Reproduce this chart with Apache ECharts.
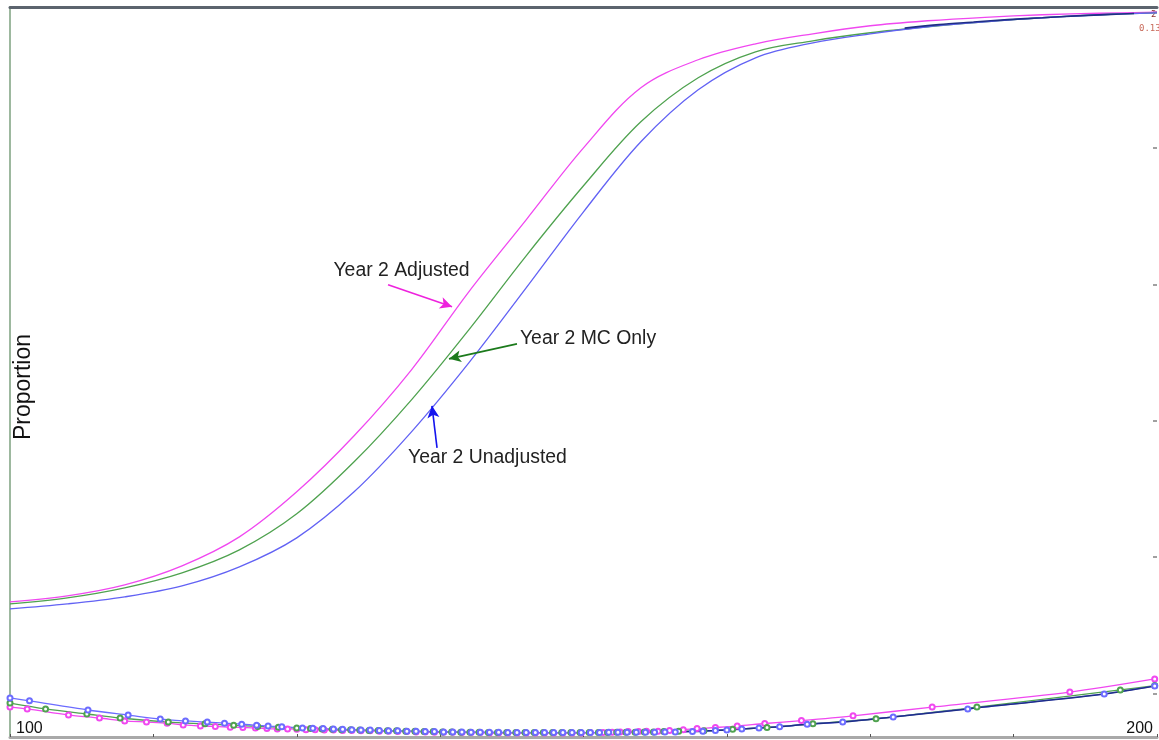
<!DOCTYPE html>
<html>
<head>
<meta charset="utf-8">
<script src="https://cdn.jsdelivr.net/npm/echarts@6/dist/echarts.min.js"></script>
<style>
  html, body { margin: 0; padding: 0; background: #ffffff; }
  #chart { width: 1159px; height: 740px; }
</style>
</head>
<body>
<div id="chart"></div>
<script>
// Score scale on the horizontal axis
const scoreTicks = [100, 200];

// Cumulative proportion curves (upper set)
const scoreX = [100, 105, 110, 115, 120, 125, 130, 135, 140, 145, 150, 155, 160, 165, 170, 175, 180, 185, 190, 195, 200];
const adjusted   = [0.1343, 0.1431, 0.1592, 0.1871, 0.2296, 0.2957, 0.3779, 0.4747, 0.5892, 0.6948, 0.8004, 0.8885, 0.9296, 0.9530, 0.9677, 0.9795, 0.9868, 0.9919, 0.9956, 0.9978, 0.9993];
const mcOnly     = [0.1313, 0.1401, 0.1548, 0.1768, 0.2105, 0.2634, 0.3397, 0.4307, 0.5334, 0.6420, 0.7447, 0.8386, 0.9032, 0.9413, 0.9574, 0.9692, 0.9780, 0.9853, 0.9912, 0.9956, 0.9985];
const unadjusted = [0.1240, 0.1313, 0.1416, 0.1577, 0.1856, 0.2282, 0.2957, 0.3837, 0.4849, 0.5949, 0.7065, 0.8093, 0.8856, 0.9325, 0.9545, 0.9677, 0.9780, 0.9853, 0.9912, 0.9956, 0.9985];
// Reference curve that shows through where the upper curves merge
const year1X = [178, 181, 184, 187, 190, 193, 196, 198];
const year1  = [0.9760, 0.9812, 0.9849, 0.9885, 0.9912, 0.9940, 0.9962, 0.9975];

// Lower curves, secondary scale (0 to 2)
const adjustedLowX = [100, 101.5, 105.1, 107.8, 110.0, 111.9, 113.7, 115.1, 116.6, 117.9, 119.2, 120.3, 121.4, 122.4, 123.3, 124.2, 125.0, 125.8, 126.6, 127.4, 128.2, 129.0, 129.8, 130.6, 131.4, 132.2, 133.0, 133.8, 134.6, 135.4, 136.2, 137.0, 137.8, 138.6, 139.4, 140.2, 141.0, 141.8, 142.6, 143.4, 144.2, 145.0, 145.8, 146.6, 147.4, 148.2, 149.0, 149.8, 150.6, 151.7, 152.5, 153.2, 153.9, 154.8, 155.5, 156.5, 157.5, 158.7, 159.9, 161.5, 163.4, 165.8, 169.0, 173.5, 180.4, 192.4, 199.8];
const adjustedLowY = [0.082, 0.077, 0.060, 0.052, 0.044, 0.041, 0.038, 0.033, 0.030, 0.029, 0.027, 0.026, 0.025, 0.023, 0.022, 0.022, 0.021, 0.020, 0.020, 0.019, 0.019, 0.018, 0.018, 0.017, 0.017, 0.016, 0.016, 0.015, 0.015, 0.014, 0.014, 0.013, 0.013, 0.013, 0.012, 0.012, 0.012, 0.011, 0.011, 0.011, 0.011, 0.011, 0.011, 0.011, 0.011, 0.011, 0.011, 0.011, 0.012, 0.012, 0.013, 0.014, 0.015, 0.015, 0.016, 0.016, 0.018, 0.020, 0.023, 0.026, 0.030, 0.037, 0.045, 0.058, 0.082, 0.123, 0.159];

const mcOnlyLowX = [100, 103.1, 106.7, 109.6, 113.8, 117.0, 119.5, 121.6, 123.4, 125.0, 126.2, 127.2, 128.1, 128.9, 129.7, 130.5, 131.3, 132.1, 132.9, 133.7, 134.5, 135.3, 136.1, 136.9, 137.7, 138.5, 139.3, 140.1, 140.9, 141.7, 142.5, 143.3, 144.1, 144.9, 145.7, 146.5, 147.3, 148.1, 148.9, 149.7, 150.5, 151.3, 152.1, 152.9, 153.7, 154.5, 155.3, 156.1, 157.0, 158.3, 160.5, 163.0, 166.0, 170.0, 175.5, 184.3, 196.8, 199.8];
const mcOnlyLowY = [0.093, 0.077, 0.063, 0.052, 0.041, 0.036, 0.032, 0.029, 0.027, 0.025, 0.023, 0.022, 0.021, 0.020, 0.020, 0.019, 0.018, 0.018, 0.017, 0.017, 0.016, 0.016, 0.015, 0.015, 0.014, 0.014, 0.013, 0.013, 0.013, 0.012, 0.012, 0.012, 0.012, 0.012, 0.012, 0.012, 0.012, 0.012, 0.012, 0.012, 0.012, 0.012, 0.012, 0.013, 0.013, 0.013, 0.014, 0.014, 0.015, 0.016, 0.017, 0.021, 0.026, 0.036, 0.050, 0.082, 0.129, 0.141];

const unadjustedLowX = [100, 101.7, 106.8, 110.3, 113.1, 115.3, 117.2, 118.7, 120.2, 121.5, 122.5, 123.7, 125.5, 126.4, 127.3, 128.2, 129.0, 129.8, 130.6, 131.4, 132.2, 133.0, 133.8, 134.6, 135.4, 136.2, 137.0, 137.8, 138.6, 139.4, 140.2, 141.0, 141.8, 142.6, 143.4, 144.2, 145.0, 145.8, 146.6, 147.4, 148.2, 149.0, 149.8, 150.6, 151.4, 152.2, 153.0, 153.8, 154.6, 155.4, 156.2, 157.1, 158.0, 159.5, 160.4, 161.5, 162.5, 163.8, 165.3, 167.1, 169.5, 172.6, 177.0, 183.5, 195.4, 199.8];
const unadjustedLowY = [0.107, 0.099, 0.074, 0.060, 0.049, 0.044, 0.041, 0.038, 0.035, 0.032, 0.030, 0.028, 0.025, 0.024, 0.023, 0.022, 0.021, 0.020, 0.019, 0.019, 0.018, 0.017, 0.017, 0.016, 0.016, 0.015, 0.015, 0.014, 0.014, 0.014, 0.013, 0.013, 0.013, 0.013, 0.012, 0.012, 0.012, 0.012, 0.012, 0.012, 0.012, 0.012, 0.012, 0.012, 0.012, 0.013, 0.013, 0.013, 0.013, 0.013, 0.013, 0.014, 0.014, 0.015, 0.016, 0.018, 0.019, 0.022, 0.025, 0.028, 0.035, 0.041, 0.055, 0.077, 0.118, 0.140];

// Curve labels and their arrows (data coordinates)
const curveLabels = [
  { text: 'Year 2 Adjusted',   at: [128.2, 0.6200] },
  { text: 'Year 2 MC Only',    at: [144.46, 0.5202] },
  { text: 'Year 2 Unadjusted', at: [134.7, 0.3455] }
];
const adjustedArrow   = [[132.96, 0.5994], [138.54, 0.5671]];
const mcOnlyArrow     = [[144.20, 0.5128], [138.27, 0.4908]];
const unadjustedArrow = [[137.23, 0.3602], [136.79, 0.4219]];

const C_ADJ = '#f048f0';
const C_MC = '#4fa24f';
const C_UN = '#6262f4';
const C_NAVY = '#1f2f86';

const zip = (xs, ys) => xs.map((x, i) => [x, ys[i]]);

function arrow(points, color) {
  return {
    silent: true,
    symbol: ['none', 'arrow'],
    symbolSize: [9, 12],
    label: { show: false },
    lineStyle: { color: color, width: 1.6, type: 'solid' },
    itemStyle: { color: color },
    emphasis: { disabled: true },
    animation: false,
    data: [[{ coord: points[0] }, { coord: points[1] }]]
  };
}

function upper(name, data, color, arrowPts, arrowColor) {
  return {
    name: name, type: 'line', xAxisIndex: 0, yAxisIndex: 0,
    data: zip(scoreX, data), smooth: 0.35, showSymbol: false,
    lineStyle: { color: color, width: 1.3 }, itemStyle: { color: color },
    markLine: arrowPts ? arrow(arrowPts, arrowColor) : undefined
  };
}

function lower(name, xs, ys, color) {
  return {
    name: name, type: 'line', xAxisIndex: 0, yAxisIndex: 1,
    data: zip(xs, ys), smooth: 0.3, symbol: 'emptyCircle', symbolSize: 5,
    lineStyle: { color: color, width: 1.3 },
    itemStyle: { color: color, borderColor: color, borderWidth: 1.2 }
  };
}

const chart = echarts.init(document.getElementById('chart'), null, { renderer: 'canvas' });

const lowerNavy = zip(unadjustedLowX, unadjustedLowY).filter(p => p[0] >= 155);

chart.setOption({
  animation: false,
  backgroundColor: '#ffffff',
  grid: { left: 10, right: 2, top: 7, bottom: 3, containLabel: false },
  xAxis: [
    {
      type: 'value', position: 'bottom', min: 100, max: 200, interval: 12.5,
      axisLine: { show: true, onZero: false, lineStyle: { color: '#a9a9a9', width: 3 } },
      axisTick: { show: true, inside: true, length: 3, lineStyle: { color: '#555', width: 1 } },
      axisLabel: {
        show: true, inside: true, customValues: scoreTicks, margin: 0,
        alignMinLabel: 'left', alignMaxLabel: 'right',
        padding: [0, 4, 0, 6],
        fontFamily: 'Liberation Sans, Arial, sans-serif', fontSize: 16, color: '#111'
      },
      splitLine: { show: false }
    },
    {
      type: 'value', position: 'top', min: 100, max: 200,
      axisLine: { show: true, onZero: false, lineStyle: { color: '#5c646e', width: 3 } },
      axisTick: { show: false }, axisLabel: { show: false }, splitLine: { show: false }
    }
  ],
  yAxis: [
    {
      type: 'value', position: 'right', min: -0.064, max: 1.007,
      axisLine: { show: false, onZero: false },
      axisTick: { show: true, inside: true, length: 4, customValues: [0, 0.2, 0.4, 0.6, 0.8, 1.0], lineStyle: { color: '#a0a0a0', width: 2 } },
      axisLabel: { show: false },
      splitLine: { show: false }
    },
    {
      type: 'value', position: 'left', min: 0, max: 2,
      axisLine: { show: true, onZero: false, lineStyle: { color: '#9db89f', width: 2 } },
      axisTick: { show: false }, axisLabel: { show: false }, splitLine: { show: false }
    }
  ],
  series: [
    upper('Year 2 Adjusted', adjusted, C_ADJ, adjustedArrow, '#ee22dd'),
    upper('Year 2 MC Only', mcOnly, C_MC, mcOnlyArrow, '#1c7a1c'),
    upper('Year 2 Unadjusted', unadjusted, C_UN, unadjustedArrow, '#1414ee'),
    {
      name: 'Year 1', type: 'line', xAxisIndex: 0, yAxisIndex: 0,
      data: zip(year1X, year1), smooth: 0.3, showSymbol: false,
      lineStyle: { color: C_NAVY, width: 1.6 }
    },
    lower('Year 2 Adjusted SE', adjustedLowX, adjustedLowY, C_ADJ),
    lower('Year 2 MC Only SE', mcOnlyLowX, mcOnlyLowY, C_MC),
    lower('Year 2 Unadjusted SE', unadjustedLowX, unadjustedLowY, '#6c6cff'),
    {
      name: 'Year 1 SE', type: 'line', xAxisIndex: 0, yAxisIndex: 1,
      data: lowerNavy, smooth: 0.3, showSymbol: false,
      lineStyle: { color: C_NAVY, width: 1.5 }
    }
  ]
});

// Curve labels placed through the chart's own coordinate system
const labelGraphics = curveLabels.map(l => {
  const p = chart.convertToPixel({ xAxisIndex: 0, yAxisIndex: 0 }, l.at);
  return {
    type: 'text', x: p[0], y: p[1], silent: true,
    style: {
      text: l.text, fill: '#222', align: 'left', verticalAlign: 'middle',
      font: '19.4px "Liberation Sans", Arial, sans-serif'
    }
  };
});

chart.setOption({
  graphic: labelGraphics.concat([
    {
      type: 'text', x: 24, y: 387, rotation: Math.PI / 2, silent: true,
      style: {
        text: 'Proportion', fill: '#111', align: 'center', verticalAlign: 'middle',
        font: '23px "Liberation Sans", Arial, sans-serif'
      }
    },
    {
      type: 'text', x: 1151, y: 15, silent: true,
      style: { text: '2', fill: '#8a3030', align: 'left', verticalAlign: 'middle', font: '9px "DejaVu Sans Mono", monospace' }
    },
    {
      type: 'text', x: 1139, y: 29, silent: true,
      style: { text: '0.13', fill: '#c86a5a', align: 'left', verticalAlign: 'middle', font: '9px "DejaVu Sans Mono", monospace' }
    }
  ])
});
</script>
</body>
</html>
